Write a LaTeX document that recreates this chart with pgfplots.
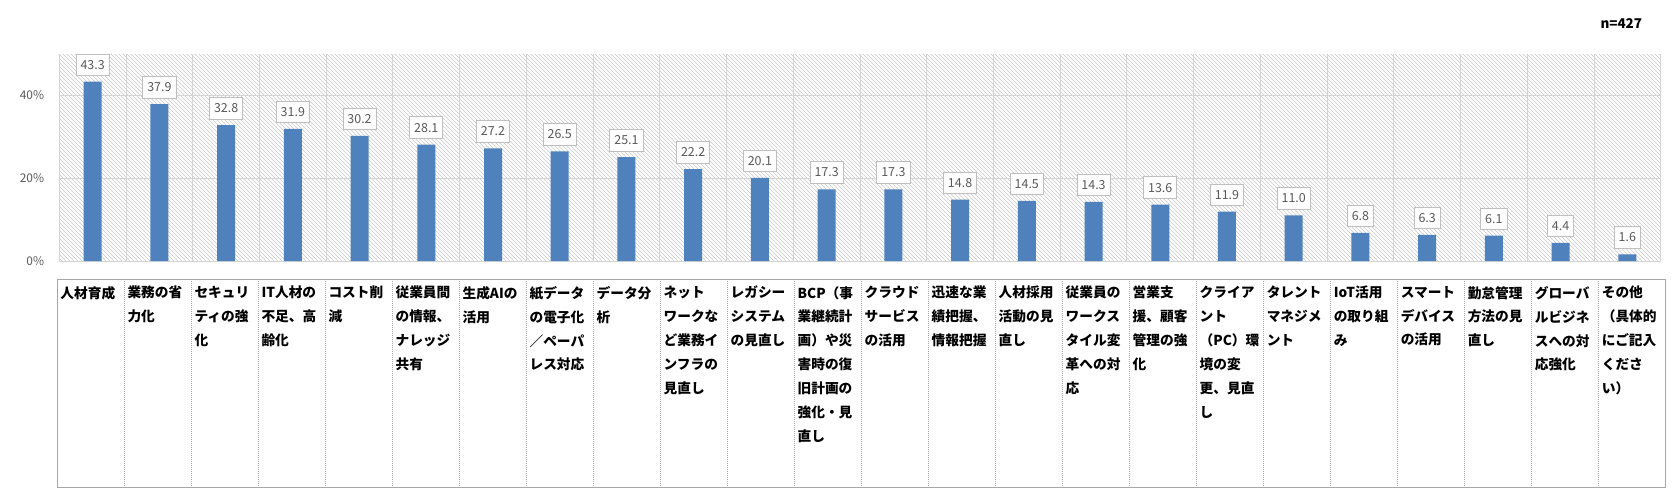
\documentclass[border=0pt]{standalone}
\usepackage{pgfplots}
\pgfplotsset{compat=1.18}
\usepackage{fontspec}
\setmainfont{Noto Sans CJK JP}
\usetikzlibrary{patterns}
\pgfdeclarepatternformonly{myhatch}{\pgfqpoint{-1pt}{-1pt}}{\pgfqpoint{5pt}{5pt}}{\pgfqpoint{4bp}{4bp}}{%
  \pgfsetlinewidth{0.6pt}%
  \pgfpathmoveto{\pgfqpoint{-0.1bp}{4.1bp}}%
  \pgfpathlineto{\pgfqpoint{4.1bp}{-0.1bp}}%
  \pgfusepath{stroke}}
\definecolor{barblue}{HTML}{4F81BD}
\definecolor{labelgray}{HTML}{595959}
\definecolor{gridgray}{HTML}{D4D4D4}
\definecolor{boxgray}{HTML}{BFBFBF}
\definecolor{tablegray}{HTML}{A6A6A6}
\definecolor{hatch}{HTML}{C8C8C8}
\begin{document}
\begin{tikzpicture}
\useasboundingbox (-59.3bp,-242bp) rectangle (1617.7bp,261bp);
\begin{axis}[
  at={(0,0)}, anchor=south west,
  width=1601.4bp, height=207bp, scale only axis,
  xmin=0.5, xmax=24.5, ymin=0, ymax=50,
  clip=false,
  axis line style={draw=none},
  axis background/.style={pattern=myhatch, pattern color=hatch},
  /pgf/number format/assume math mode=true,
  ytick={0,20,40},
  yticklabel={\pgfmathprintnumber{\tick}\%},
  yticklabel style={font=\fontsize{12}{14}\selectfont, text=labelgray, inner sep=0pt, anchor=east, xshift=-15bp},
  ymajorgrids,
  major grid style={draw=gridgray, line width=0.9bp},
  xtick={1,...,24},
  minor xtick={0.5,1.5,...,24.5},
  xminorgrids,
  minor grid style={draw=gridgray, line width=0.9bp},
  major tick length=0pt, minor tick length=0pt,
  tick style={draw=none},
  xticklabels={人材育成, {業務の省\\力化}, {セキュリ\\ティの強\\化}, {IT人材の\\不足、高\\齢化}, {コスト削\\減}, {従業員間\\の情報、\\ナレッジ\\共有}, {生成AIの\\活用}, {紙データ\\の電子化\\／ペーパ\\レス対応}, {データ分\\析}, {ネット\\ワークな\\ど業務イ\\ンフラの\\見直し}, {レガシー\\システム\\の見直し}, {BCP（事\\業継続計\\画）や災\\害時の復\\旧計画の\\強化・見\\直し}, {クラウド\\サービス\\の活用}, {迅速な業\\績把握、\\情報把握}, {人材採用\\活動の見\\直し}, {従業員の\\ワークス\\タイル変\\革への対\\応}, {営業支\\援、顧客\\管理の強\\化}, {クライア\\ント\\（PC）環\\境の変\\更、見直\\し}, {タレント\\マネジメ\\ント}, {IoT活用\\の取り組\\み}, {スマート\\デバイス\\の活用}, {勤怠管理\\方法の見\\直し}, {グローバ\\ルビジネ\\スへの対\\応強化}, {その他\\（具体的\\にご記入\\くださ\\い）}},
  xticklabel style={align=left, anchor=north west, inner sep=0pt, font=\fontsize{13.75}{24}\selectfont\bfseries, text=black, xshift={-32.37bp+0.29bp*\ticknum}, yshift=-25bp},
  ybar, bar width=18bp,
  nodes near coords={\pgfmathprintnumber[fixed,fixed zerofill,precision=1]{\pgfplotspointmeta}},
  every node near coord/.append style={font=\fontsize{12.5}{14}\selectfont, text=labelgray, fill=white, draw=boxgray, line width=0.8bp, inner xsep=4.5bp, inner ysep=0pt, minimum height=21.7bp, anchor=south, yshift=5.7bp},
]
\addplot[fill=barblue, draw=none] coordinates {
(1,43.3) (2,37.9) (3,32.8) (4,31.9) (5,30.2) (6,28.1) (7,27.2) (8,26.5)
(9,25.1) (10,22.2) (11,20.1) (12,17.3) (13,17.3) (14,14.8) (15,14.5) (16,14.3)
(17,13.6) (18,11.9) (19,11.0) (20,6.8) (21,6.3) (22,6.1) (23,4.4) (24,1.6)};
\end{axis}
\draw[tablegray, line width=1bp] (-2bp,-18bp) rectangle (1606.4bp,-226bp);
\foreach \k in {1,...,23} {
  \draw[tablegray, line width=0.8bp, dash pattern=on 1bp off 1bp] ({-2bp+67.018bp*\k},-18bp) -- ({-2bp+67.018bp*\k},-226bp);
}
\node[anchor=east, font=\fontsize{13.5}{16}\selectfont\bfseries, inner sep=0pt] at (1583bp,237bp) {n=427};
\end{tikzpicture}
\end{document}
